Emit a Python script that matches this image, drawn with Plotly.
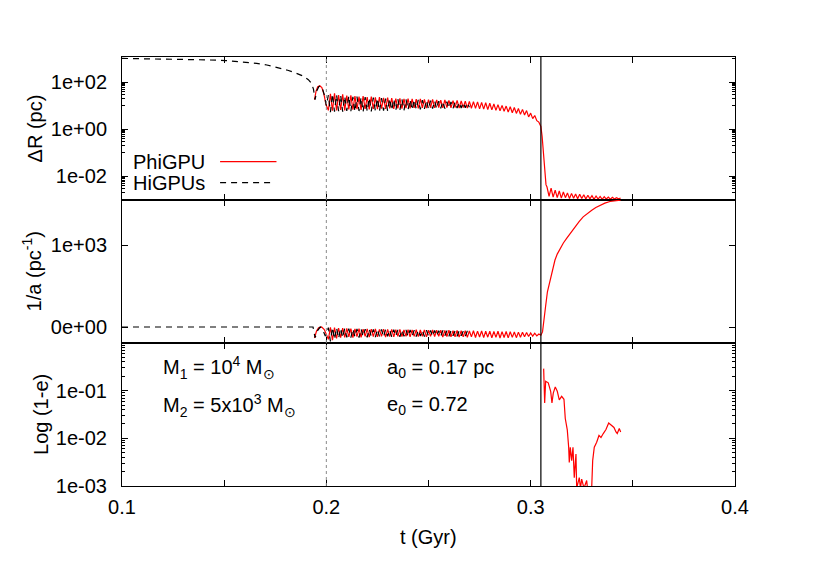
import plotly.graph_objects as go
from plotly.subplots import make_subplots

# time grid of the oscillating phase (Gyr)
osc_t = [
    0.201, 0.202, 0.203, 0.204, 0.205, 0.206, 0.207, 0.208, 0.209, 0.210,
    0.211, 0.212, 0.213, 0.214, 0.215, 0.216, 0.217, 0.218, 0.219, 0.220,
    0.221, 0.222, 0.223, 0.224, 0.225, 0.226, 0.227, 0.228, 0.229, 0.230,
    0.231, 0.232, 0.233, 0.234, 0.235, 0.236, 0.237, 0.238, 0.239, 0.240,
    0.241, 0.242, 0.243, 0.244, 0.245, 0.246, 0.247, 0.248, 0.249, 0.250,
    0.251, 0.252, 0.253, 0.254, 0.255, 0.256, 0.257, 0.258, 0.259, 0.260,
    0.261, 0.262, 0.263, 0.264, 0.265, 0.266, 0.267, 0.268, 0.269, 0.270,
    0.271, 0.272, 0.273, 0.274, 0.275, 0.276, 0.277, 0.278, 0.279, 0.280,
    0.281, 0.282, 0.283, 0.284, 0.285, 0.286, 0.287, 0.288, 0.289, 0.290,
    0.291, 0.292, 0.293, 0.294, 0.295, 0.296, 0.297, 0.298, 0.299, 0.300,
    0.301, 0.302, 0.303, 0.304,
]
n_higpus_osc = 70  # HiGPUs run stops at ~0.27 Gyr

# ---- top panel: log10 of Delta R (pc) ----
phi_dr_pre_t = [0.1942, 0.1950, 0.1958, 0.1968, 0.1978, 0.1988, 0.1998]
phi_dr_pre = [1.25, 1.62, 1.80, 1.84, 1.76, 1.50, 1.05]
phi_dr_osc = [
    0.80, 1.50, 0.78, 1.52, 0.80, 1.45, 0.82, 1.48, 0.80, 1.42,
    0.84, 1.44, 0.83, 1.40, 0.85, 1.38, 0.82, 1.40, 0.86, 1.36,
    0.84, 1.38, 0.86, 1.35, 0.85, 1.36, 0.87, 1.33, 0.86, 1.34,
    0.88, 1.32, 0.86, 1.30, 0.88, 1.31, 0.87, 1.29, 0.89, 1.30,
    0.88, 1.28, 0.90, 1.27, 0.88, 1.28, 0.90, 1.26, 0.89, 1.25,
    0.91, 1.26, 0.90, 1.24, 0.92, 1.23, 0.90, 1.24, 0.92, 1.22,
    0.91, 1.21, 0.92, 1.22, 0.90, 1.20, 0.92, 1.19, 0.90, 1.18,
    0.89, 1.17, 0.88, 1.16, 0.86, 1.14, 0.85, 1.12, 0.83, 1.10,
    0.82, 1.07, 0.80, 1.04, 0.78, 1.01, 0.76, 0.98, 0.73, 0.95,
    0.70, 0.92, 0.67, 0.88, 0.63, 0.84, 0.60, 0.79, 0.52, 0.68,
    0.45, 0.58, 0.36, 0.30,
]
phi_dr_drop_t = [0.3050, 0.3056, 0.3062, 0.3069, 0.3075]
phi_dr_drop = [0.12, -0.30, -0.88, -1.70, -2.35]
phi_dr_post_t = [
    0.308, 0.309, 0.310, 0.311, 0.312, 0.313, 0.314, 0.315, 0.316, 0.317,
    0.318, 0.319, 0.320, 0.321, 0.322, 0.323, 0.324, 0.325, 0.326, 0.327,
    0.328, 0.329, 0.330, 0.331, 0.332, 0.333, 0.334, 0.335, 0.336, 0.337,
    0.338, 0.339, 0.340, 0.341, 0.342, 0.343, 0.344,
]
phi_dr_post = [
    -2.45, -2.85, -2.50, -2.88, -2.58, -2.90, -2.62, -2.92, -2.66, -2.90,
    -2.70, -2.94, -2.72, -2.93, -2.75, -2.95, -2.76, -2.94, -2.78, -2.96,
    -2.80, -2.95, -2.82, -2.97, -2.83, -2.96, -2.85, -2.97, -2.86, -2.96,
    -2.88, -2.97, -2.89, -2.96, -2.90, -2.95, -2.92,
]

hig_dr_pre_t = [0.100, 0.1101, 0.1203, 0.1304, 0.1405, 0.1507, 0.1608, 0.1659,
                0.1709, 0.1760, 0.1811, 0.1851, 0.1881, 0.1912, 0.1927, 0.1937,
                0.1945, 0.1953, 0.1963, 0.1971, 0.1980, 0.1990, 0.2000]
hig_dr_pre = [3.00, 2.99, 2.98, 2.96, 2.94, 2.91, 2.84, 2.79,
              2.72, 2.62, 2.50, 2.38, 2.27, 2.10, 1.95, 1.70,
              1.25, 1.62, 1.80, 1.84, 1.75, 1.45, 1.00]
hig_dr_osc = [
    1.45, 0.72, 1.50, 0.74, 1.46, 0.76, 1.44, 0.74, 1.40, 0.77,
    1.41, 0.76, 1.37, 0.75, 1.38, 0.77, 1.35, 0.74, 1.36, 0.76,
    1.33, 0.75, 1.34, 0.78, 1.31, 0.76, 1.32, 0.79, 1.30, 0.77,
    1.30, 0.80, 1.28, 0.79, 1.28, 0.82, 1.27, 0.80, 1.26, 0.83,
    1.25, 0.82, 1.25, 0.85, 1.24, 0.84, 1.23, 0.86, 1.22, 0.85,
    1.21, 0.87, 1.20, 0.86, 1.19, 0.88, 1.18, 0.87, 1.17, 0.89,
    1.16, 0.88, 1.15, 0.90, 1.14, 0.90, 1.13, 0.91, 1.12, 0.93,
]

# ---- middle panel: 1/a (pc^-1) ----
phi_inva_pre_t = [0.1942, 0.1952, 0.1962, 0.1977, 0.1990, 0.2000]
phi_inva_pre = [-134, -50, -10, 0, -30, -100]
phi_inva_osc = [
    -150, -5, -160, -8, -140, -12, -130, -15, -125, -18,
    -120, -20, -128, -22, -118, -20, -125, -25, -115, -22,
    -122, -26, -118, -24, -120, -28, -115, -26, -122, -30,
    -116, -28, -120, -32, -114, -30, -118, -34, -112, -32,
    -120, -35, -114, -33, -118, -36, -112, -34, -120, -38,
    -115, -36, -118, -40, -114, -38, -122, -42, -116, -40,
    -120, -44, -118, -42, -124, -46, -118, -44, -126, -48,
    -120, -46, -128, -50, -122, -48, -130, -52, -124, -50,
    -132, -54, -126, -52, -134, -56, -128, -55, -132, -58,
    -126, -60, -130, -62, -124, -64, -120, -68, -116, -72,
    -112, -76, -108, -85,
]
phi_inva_rise_t = [0.3050, 0.3058, 0.3065, 0.3073, 0.3082, 0.3090, 0.3098, 0.3108,
                   0.3119, 0.3130, 0.3144, 0.3160, 0.3176, 0.3196, 0.3217, 0.3237,
                   0.3257, 0.3278, 0.3299, 0.3319, 0.3339, 0.3363, 0.3388, 0.3414,
                   0.3440]
phi_inva_rise = [-100, -60, 60, 250, 430, 520, 575, 700,
                 818, 890, 960, 1025, 1081, 1150, 1222, 1285,
                 1344, 1388, 1425, 1458, 1486, 1512, 1532, 1542,
                 1548]

hig_inva_pre_t = [0.100, 0.150, 0.1935, 0.1945, 0.1958, 0.1970, 0.1982, 0.1995]
hig_inva_pre = [0, 0, 0, -130, -40, 0, -30, -110]
hig_inva_osc = [
    -8, -175, -5, -150, -10, -140, -15, -130, -18, -125,
    -20, -130, -22, -120, -24, -128, -22, -118, -26, -125,
    -25, -116, -28, -124, -27, -115, -30, -122, -29, -114,
    -32, -120, -31, -113, -34, -119, -33, -112, -36, -118,
    -35, -111, -38, -117, -37, -110, -40, -116, -39, -110,
    -42, -115, -41, -109, -44, -114, -43, -108, -46, -113,
    -45, -108, -48, -112, -47, -107, -50, -111, -49, -106,
]

# ---- bottom panel: 1 - e ----
phi_ecc_t = [0.30636, 0.30685, 0.30734, 0.30861, 0.30979, 0.31042, 0.31106, 0.31204,
             0.31302, 0.31400, 0.31517, 0.31630, 0.31694, 0.31792, 0.31860, 0.31889,
             0.31938, 0.32007, 0.32071, 0.32134, 0.32217, 0.32252, 0.32379, 0.32438,
             0.32497, 0.32609, 0.32741, 0.32805, 0.32900, 0.32986, 0.33035, 0.33113,
             0.33230, 0.33343, 0.33441, 0.33553, 0.33685, 0.33818, 0.33965, 0.34077,
             0.34175, 0.34238, 0.34336, 0.34405]
phi_ecc = [0.29, 0.055, 0.158, 0.146, 0.097, 0.055, 0.089, 0.12,
           0.097, 0.064, 0.076, 0.066, 0.026, 0.015, 0.0065, 0.0031,
           0.0065, 0.0034, 0.0065, 0.0015, 0.0047, 0.0009, 0.0015, 0.0009,
           0.0014, 0.0009, 0.0013, 0.0009, 0.0003, 0.0009, 0.0034, 0.0065,
           0.0083, 0.0115, 0.0104, 0.0126, 0.0153, 0.021, 0.019, 0.0169,
           0.0136, 0.0126, 0.016, 0.0136]

pericentre_t = 0.2
merger_t = 0.305

FONT = "Liberation Sans, Arial, sans-serif"
RED = "#ff0000"

fig = make_subplots(rows=3, cols=1, shared_xaxes=True, vertical_spacing=0)

# top panel
fig.add_trace(go.Scatter(
    x=phi_dr_pre_t + osc_t + phi_dr_drop_t + phi_dr_post_t,
    y=[10 ** v for v in phi_dr_pre + phi_dr_osc + phi_dr_drop + phi_dr_post],
    mode="lines", line=dict(color=RED, width=1.2), name="PhiGPU"), row=1, col=1)
fig.add_trace(go.Scatter(
    x=hig_dr_pre_t + osc_t[:n_higpus_osc],
    y=[10 ** v for v in hig_dr_pre + hig_dr_osc],
    mode="lines", line=dict(color="black", width=1.2, dash="6px,5px"),
    name="HiGPUs"), row=1, col=1)

# middle panel
fig.add_trace(go.Scatter(
    x=phi_inva_pre_t + osc_t + phi_inva_rise_t,
    y=phi_inva_pre + phi_inva_osc + phi_inva_rise,
    mode="lines", line=dict(color=RED, width=1.2)), row=2, col=1)
fig.add_trace(go.Scatter(
    x=hig_inva_pre_t + osc_t[:n_higpus_osc],
    y=hig_inva_pre + hig_inva_osc,
    mode="lines", line=dict(color="black", width=1.2, dash="6px,5px")),
    row=2, col=1)

# bottom panel
fig.add_trace(go.Scatter(
    x=phi_ecc_t, y=phi_ecc,
    mode="lines", line=dict(color=RED, width=1.2)), row=3, col=1)

fig.add_vline(x=pericentre_t, line=dict(color="#8a8a8a", width=1, dash="3px,3px"),
              row="all", col=1)
fig.add_vline(x=merger_t, line=dict(color="black", width=1.2), row="all", col=1)

axis_common = dict(showline=True, linecolor="black", linewidth=1, mirror="allticks",
                   ticks="inside", ticklen=6, tickcolor="black", showgrid=False,
                   zeroline=False, tickfont=dict(family=FONT, size=20, color="black"))

for r in (1, 2, 3):
    fig.update_xaxes(range=[0.1, 0.4], tickmode="array",
                     tickvals=[0.1, 0.2, 0.3, 0.4], ticktext=["0.1", "0.2", "0.3", "0.4"],
                     minor=dict(tickmode="array", tickvals=[0.15, 0.25, 0.35],
                                ticks="inside", ticklen=6, tickcolor="black"),
                     showticklabels=(r == 3), ticklabelstandoff=3,
                     row=r, col=1, **axis_common)

fig.update_yaxes(type="log", range=[-3, 3.06], tickmode="array",
                 tickvals=[1e-2, 1, 1e2], ticktext=["1e-02", "1e+00", "1e+02"],
                 minor=dict(tickmode="array",
                            tickvals=[k * 10.0 ** e for e in (-4, -2, 0, 2)
                                      for k in range(10, 100, 10)],
                            ticks="inside", ticklen=3, tickcolor="black"),
                 ticklabelstandoff=10, row=1, col=1, **axis_common)
fig.update_yaxes(range=[-195, 1550], tickmode="array",
                 tickvals=[0, 1000], ticktext=["0e+00", "1e+03"],
                 ticklabelstandoff=10, row=2, col=1, **axis_common)
fig.update_yaxes(type="log", range=[-3, 0], tickmode="array",
                 tickvals=[1e-3, 1e-2, 1e-1, 1], ticktext=["1e-03", "1e-02", "1e-01", ""],
                 minor=dict(tickmode="array",
                            tickvals=[k * 10.0 ** e for e in (-3, -2, -1)
                                      for k in range(2, 10)],
                            ticks="inside", ticklen=3, tickcolor="black"),
                 ticklabelstandoff=10, row=3, col=1, **axis_common)

txt = dict(family=FONT, size=20, color="black")
annotations = [
    dict(text="ΔR (pc)", x=-0.142, y=5 / 6, textangle=-90),
    dict(text="1/a (pc<sup>-1</sup>)", x=-0.147, y=0.5, textangle=-90),
    dict(text="Log (1-e)", x=-0.133, y=1 / 6, textangle=-90),
    dict(text="t (Gyr)", x=0.5, y=-0.118),
]
for a in annotations:
    fig.add_annotation(xref="paper", yref="paper", xanchor="center", yanchor="middle",
                       showarrow=False, font=txt, **a)

labels = [
    dict(text="PhiGPU", x=0.015, y=0.756),
    dict(text="HiGPUs", x=0.015, y=0.707),
    dict(text="M<sub>1</sub> = 10<sup>4</sup> M<sub>⊙</sub>", x=0.063, y=0.276),
    dict(text="M<sub>2</sub> = 5x10<sup>3</sup> M<sub>⊙</sub>", x=0.063, y=0.188),
    dict(text="a<sub>0</sub> = 0.17 pc", x=0.429, y=0.274),
    dict(text="e<sub>0</sub> = 0.72", x=0.429, y=0.188),
]
for a in labels:
    fig.add_annotation(xref="paper", yref="paper", xanchor="left", yanchor="middle",
                       showarrow=False, font=txt, **a)

# key samples next to the legend texts
fig.add_shape(type="line", xref="paper", yref="paper", x0=0.160, x1=0.252,
              y0=0.756, y1=0.756, line=dict(color=RED, width=1.2))
fig.add_shape(type="line", xref="paper", yref="paper", x0=0.160, x1=0.244,
              y0=0.707, y1=0.707, line=dict(color="black", width=1.2, dash="6px,5px"))

fig.update_layout(
    width=817, height=572,
    margin=dict(l=122, r=82, t=57, b=86),
    plot_bgcolor="white", paper_bgcolor="white",
    showlegend=False,
    font=txt,
)

fig.write_html("out.html", config={"displayModeBar": False},
               post_script="document.body.style.margin='0px';")
